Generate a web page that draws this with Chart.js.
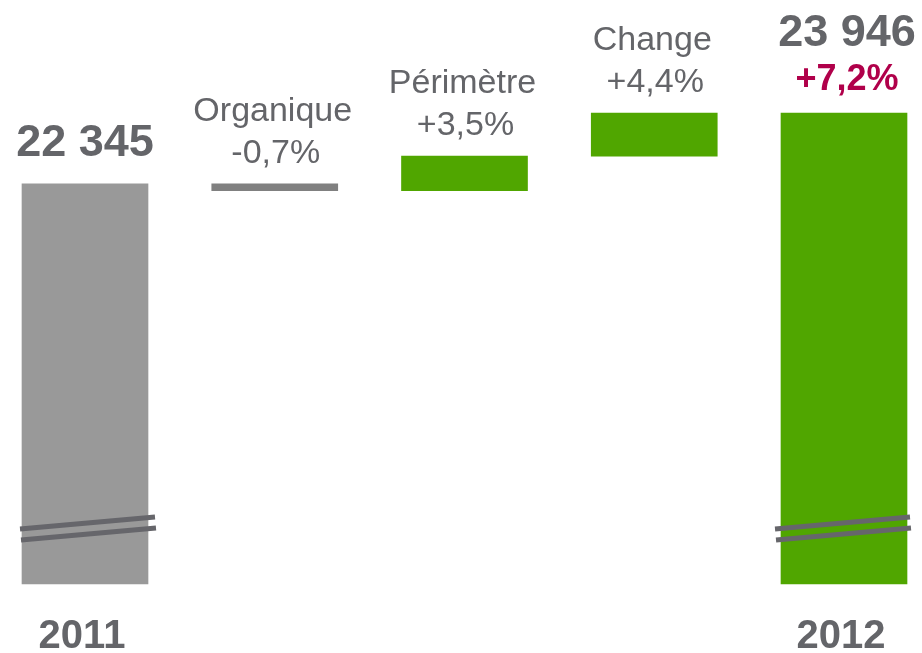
<!DOCTYPE html>
<html lang="fr">
<head>
<meta charset="utf-8">
<title>Chiffre d'affaires 2011 - 2012</title>
<script src="https://cdn.jsdelivr.net/npm/chart.js@4/dist/chart.umd.min.js"></script>
<style>
  html, body { margin: 0; padding: 0; background: #ffffff; }
  canvas { display: block; }
</style>
</head>
<body>
<canvas id="bridge" width="922" height="653"></canvas>
<script>
// Categories of the bridge (first and last are totals)
const CATEGORIES = ["2011", "Organique", "Périmètre", "Change", "2012"];

// Totals and the steps between them
const START_TOTAL = 22345;
const END_TOTAL = 23946;
const STEP_VALUES = [-156, 782, 975];
const STEP_LABELS = ["-0,7%", "+3,5%", "+4,4%"];
const TOTAL_GROWTH = "+7,2%";
const TOTAL_LABELS = ["22 345", "23 946"];

// Broken axis: the bars start from this value
const AXIS_MIN = 13300;
const AXIS_MAX = 26500;

const COLORS = {
  total2011: "#999999",
  negative: "#808080",
  positive: "#50A600",
  text: "#646569",
  accent: "#B0004A",
  breakLine: "#66666B",
};

const FONT = "'Liberation Sans', Arial, sans-serif";

// Build floating bars [from, to] from the totals and steps
function buildBridgeData() {
  const rows = [[AXIS_MIN, START_TOTAL]];
  let running = START_TOTAL;
  STEP_VALUES.forEach((step) => {
    rows.push([running, running + step]);
    running += step;
  });
  rows.push([AXIS_MIN, END_TOTAL]);
  return rows;
}

function buildColors() {
  const colors = [COLORS.total2011];
  STEP_VALUES.forEach((step) => {
    colors.push(step < 0 ? COLORS.negative : COLORS.positive);
  });
  colors.push(COLORS.positive);
  return colors;
}

// Labels, year captions and axis break marks
const bridgeLabels = {
  id: "bridgeLabels",
  afterDatasetsDraw(chart) {
    const ctx = chart.ctx;
    const meta = chart.getDatasetMeta(0);
    const bottom = chart.chartArea.bottom;
    const last = meta.data.length - 1;

    ctx.save();
    ctx.textAlign = "center";
    ctx.textBaseline = "alphabetic";

    meta.data.forEach((bar, i) => {
      const { x, y, base } = bar.getProps(["x", "y", "base"], true);
      const top = Math.min(y, base);

      if (i === 0) {
        ctx.fillStyle = COLORS.text;
        ctx.font = "bold 45px " + FONT;
        ctx.fillText(TOTAL_LABELS[0], x, top - 28);
      } else if (i === last) {
        ctx.fillStyle = COLORS.accent;
        ctx.font = "bold 36px " + FONT;
        ctx.fillText(TOTAL_GROWTH, x + 3, top - 23);
        ctx.fillStyle = COLORS.text;
        ctx.font = "bold 45px " + FONT;
        ctx.fillText(TOTAL_LABELS[1], x + 3, top - 67);
      } else {
        ctx.fillStyle = COLORS.text;
        ctx.font = "34px " + FONT;
        ctx.fillText(STEP_LABELS[i - 1], x + 1, top - 21);
        ctx.fillText(CATEGORIES[i], x - 2, top - 63);
      }

      if (i === 0 || i === last) {
        // year caption under the bar
        ctx.fillStyle = COLORS.text;
        ctx.font = "bold 40px " + FONT;
        ctx.fillText(CATEGORIES[i], x - 3, bottom + 64);

        // double slanted break mark
        const dx = i === 0 ? 0 : -4;
        ctx.strokeStyle = COLORS.breakLine;
        ctx.lineWidth = 5;
        ctx.lineCap = "butt";
        ctx.beginPath();
        ctx.moveTo(x - 65 + dx, bottom - 55);
        ctx.lineTo(x + 70 + dx, bottom - 67);
        ctx.moveTo(x - 64 + dx, bottom - 44);
        ctx.lineTo(x + 71 + dx, bottom - 56);
        ctx.stroke();
      }
    });

    ctx.restore();
  },
};

document.addEventListener("DOMContentLoaded", () => {
  const canvas = document.getElementById("bridge");

  new Chart(canvas, {
    type: "bar",
    data: {
      labels: CATEGORIES,
      datasets: [
        {
          data: buildBridgeData(),
          backgroundColor: buildColors(),
          borderWidth: 0,
          borderSkipped: false,
          barThickness: 126,
          clip: false,
        },
      ],
    },
    options: {
      responsive: false,
      animation: false,
      devicePixelRatio: 1,
      layout: {
        padding: { left: 85, right: 78, top: 0, bottom: 69 },
      },
      plugins: {
        legend: { display: false },
        tooltip: { enabled: false },
      },
      scales: {
        x: {
          display: false,
          offset: false,
        },
        y: {
          display: false,
          min: AXIS_MIN,
          max: AXIS_MAX,
        },
      },
    },
    plugins: [bridgeLabels],
  });
});
</script>
</body>
</html>
